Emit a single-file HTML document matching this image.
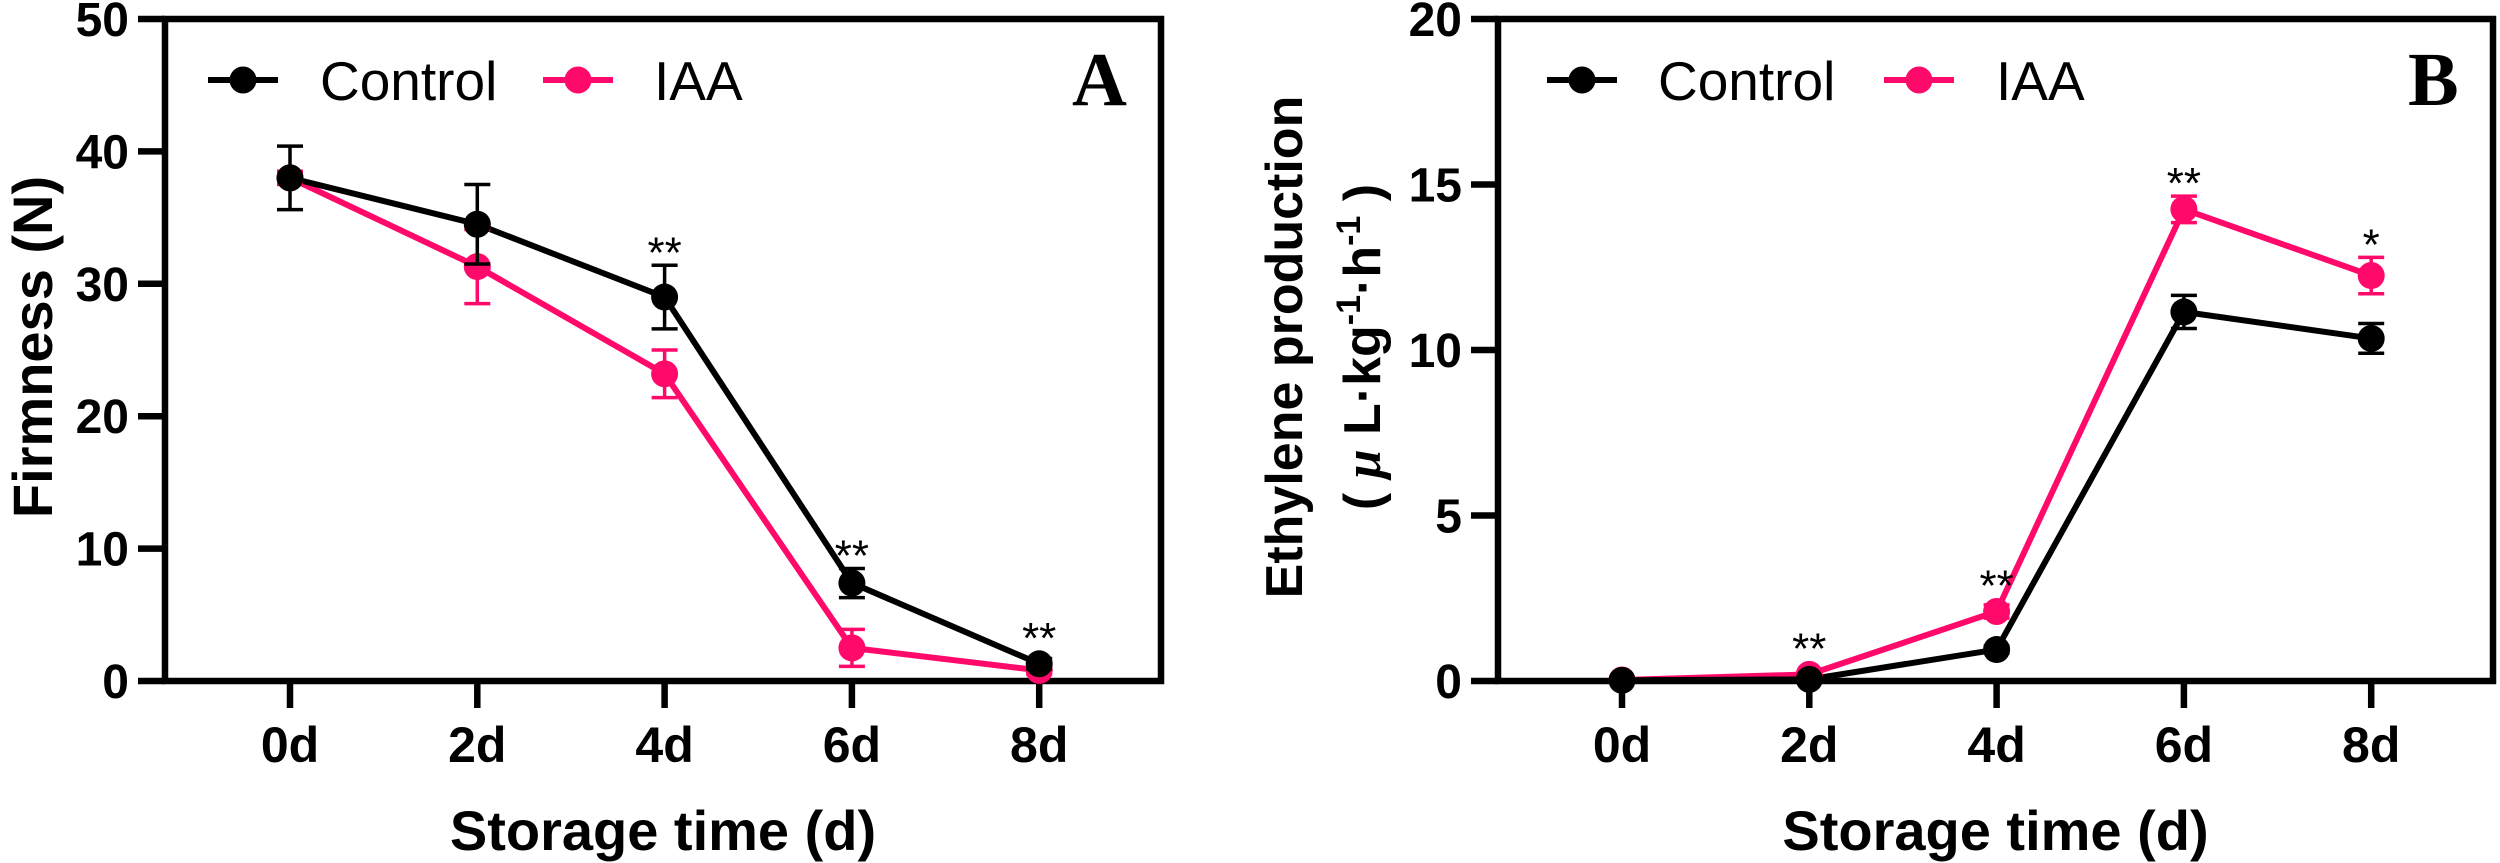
<!DOCTYPE html>
<html><head><meta charset="utf-8"><style>
html,body{margin:0;padding:0;background:#fff;}
svg{display:block;font-family:"Liberation Sans",sans-serif;}
</style></head><body>
<svg id="chart" width="2500" height="863" viewBox="0 0 2500 863" xmlns="http://www.w3.org/2000/svg"></svg>
<script>
const categories = ["0d","2d","4d","6d","8d"];
const firmTicks = [0,10,20,30,40,50];
const firmControl = [38,34.5,29,7.4,1.3];
const firmControlErr = [2.4,3,2.4,1.1,0.4];
const firmIAA = [38,31.3,23.2,2.5,0.8];
const firmIAAErr = [0.5,2.8,1.8,1.4,0.3];
const firmStars = ["","","**","**","**"];
const ethTicks = [0,5,10,15,20];
const ethControl = [0.02,0.05,0.95,11.15,10.35];
const ethControlErr = [0.05,0.05,0.1,0.5,0.45];
const ethIAA = [0.03,0.2,2.1,14.25,12.25];
const ethIAAErr = [0.05,0.05,0.2,0.4,0.55];
const ethStars = ["","**","**","**","*"];

const NS="http://www.w3.org/2000/svg";
const svg=document.getElementById('chart');
const PINK="#FF0A6A";
function mk(tag,attrs,parent,text){const e=document.createElementNS(NS,tag);for(const k in attrs)e.setAttribute(k,attrs[k]);if(text!==undefined)e.textContent=text;(parent||svg).appendChild(e);return e;}

function panel(cfg){
  const g=mk('g',{});
  
  
  const L=cfg.left,R=cfg.right,T=19,B=681,x0=cfg.x0,dx=187.3;
  const ymax=cfg.ticks[cfg.ticks.length-1];
  const yS=v=>B-(v/ymax)*(B-T);
  const xS=i=>x0+i*dx;
  const fr=mk('rect',{x:L,y:T,width:R-L,height:B-T,fill:'none',stroke:'#000','stroke-width':6.5},g);
  
  
  cfg.ticks.forEach(t=>{
    const y=yS(t);
    const tk=mk('line',{x1:L-27,x2:L,y1:y,y2:y,stroke:'#000','stroke-width':6.5},g);
    
    
    const tl=mk('text',{x:L-36,y:y+17,'text-anchor':'end','font-size':48,'font-weight':'bold'},g,String(t));
    
    
  });
  categories.forEach((c,i)=>{
    const x=xS(i);
    const tk=mk('line',{x1:x,x2:x,y1:B,y2:708,stroke:'#000','stroke-width':6.5},g);
    
    
    const tl=mk('text',{x:x,y:762,'text-anchor':'middle','font-size':50,'font-weight':'bold'},g,c);
    
    
  });
  const series=[{v:cfg.ctrl,e:cfg.ctrlErr,c:'#000',n:'control'},{v:cfg.iaa,e:cfg.iaaErr,c:PINK,n:'iaa'}];
  [series[1],series[0]].forEach(s=>{
    const pts=s.v.map((v,i)=>xS(i)+','+yS(v)).join(' ');
    const pl=mk('polyline',{points:pts,fill:'none',stroke:s.c,'stroke-width':6},g);
    
    
  });
  [series[1],series[0]].forEach(s=>{
    s.v.forEach((v,i)=>{
      const x=xS(i),y1=yS(v+s.e[i]),y2=yS(Math.max(0,v-s.e[i]));
      const eb=mk('path',{d:`M${x},${y1}V${y2}M${x-13},${y1}H${x+13}M${x-13},${y2}H${x+13}`,stroke:s.c,'stroke-width':3.5,fill:'none'},g);
      
      
      const m=mk('circle',{cx:x,cy:yS(v),r:13.5,fill:s.c},g);
      
      
    });
  });
  cfg.stars.forEach((st,i)=>{
    if(!st)return;
    const top=Math.min(yS(cfg.ctrl[i]+cfg.ctrlErr[i]),yS(cfg.iaa[i]+cfg.iaaErr[i]),yS(cfg.ctrl[i])-13,yS(cfg.iaa[i])-13);
    const t=mk('text',{x:xS(i),y:top+2,'text-anchor':'middle','font-size':44},g,st);
    
    
  });
  const ly=80;
  const lg=mk('g',{},g);
  
  
  [[cfg.leg[0],'#000','Control',cfg.leg[1]],[cfg.leg[2],PINK,'IAA',cfg.leg[3]]].forEach(([lx,col,lab,tx])=>{
    const ln=mk('line',{x1:lx,x2:lx+70,y1:ly,y2:ly,stroke:col,'stroke-width':6},lg);
    
    
    const c=mk('circle',{cx:lx+35,cy:ly,r:13.5,fill:col},lg);
    
    
    const t=mk('text',{x:tx,y:ly+20,'font-size':55},lg,lab);
    
    
  });
  const pl=mk('text',{x:cfg.letterX,y:105,'font-size':76,'font-weight':'bold','font-family':'Liberation Serif, serif'},g,cfg.letter);
  
  
  const xt=mk('text',{x:(L+R)/2,y:850,'text-anchor':'middle','font-size':56,'font-weight':'bold'},g,'Storage time (d)');
  
  
  return {g,yS};
}

panel({name:'panel-a-firmness',left:165,right:1161,x0:290,ticks:firmTicks,ctrl:firmControl,ctrlErr:firmControlErr,iaa:firmIAA,iaaErr:firmIAAErr,stars:firmStars,leg:[208,320,543,654],letter:'A',letterX:1072});
panel({name:'panel-b-ethylene',left:1498,right:2493,x0:1622,ticks:ethTicks,ctrl:ethControl,ctrlErr:ethControlErr,iaa:ethIAA,iaaErr:ethIAAErr,stars:ethStars,leg:[1547,1658,1884,1996],letter:'B',letterX:2408});

const ya=mk('text',{x:0,y:0,transform:'translate(52,347) rotate(-90)','text-anchor':'middle','font-size':56,'font-weight':'bold'},svg,'Firmness (N)');


const yb=mk('text',{x:0,y:0,transform:'translate(1302,347) rotate(-90)','text-anchor':'middle','font-size':52,'font-weight':'bold'},svg,'Ethylene production');


const yb2=mk('text',{x:0,y:0,transform:'translate(1380,347) rotate(-90)','text-anchor':'middle','font-size':52,'font-weight':'bold'},svg);


mk('tspan',{'font-size':52},yb2,'( ');
mk('tspan',{'font-size':52,'font-style':'italic','font-family':'Liberation Serif, serif'},yb2,'μ');
mk('tspan',{'font-size':52},yb2,' L·kg');
mk('tspan',{'font-size':34,dy:-20},yb2,'-1');
mk('tspan',{'font-size':52,dy:20},yb2,'·h');
mk('tspan',{'font-size':34,dy:-20},yb2,'-1');
mk('tspan',{'font-size':52,dy:20},yb2,' )');
</script>
</body></html>
